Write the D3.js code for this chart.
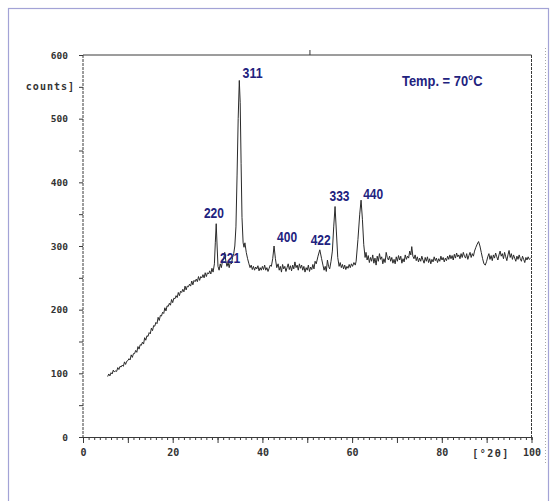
<!DOCTYPE html>
<html><head><meta charset="utf-8">
<script src="https://cdn.jsdelivr.net/npm/d3@7"></script>
<style>body{margin:0;background:#fff}svg{display:block}</style>
</head><body>
<script>
// [2θ, counts]
const risingScan = [[5.5,95],[5.75,99],[6,96],[6.25,101],[6.5,99],[6.75,105],[7,102],[7.25,104],[7.5,103],[7.75,109],[8,106],[8.25,111],[8.5,110],[8.75,113],[9,111],[9.25,118],[9.5,114],[9.75,119],[10,120],[10.25,123],[10.5,121],[10.75,129],[11,125],[11.25,131],[11.5,131],[11.75,136],[12,133],[12.25,142],[12.5,138],[12.75,145],[13,144],[13.25,149],[13.5,146],[13.75,156],[14,152],[14.25,159],[14.5,158],[14.75,164],[15,162],[15.25,171],[15.5,167],[15.75,175],[16,174],[16.25,180],[16.5,178],[16.75,188],[17,183],[17.25,191],[17.5,190],[17.75,196],[18,194],[18.25,203],[18.5,198],[18.75,206],[19,205],[19.25,210],[19.5,207],[19.75,216],[20,211],[20.25,218],[20.5,217],[20.75,222],[21,219],[21.25,227],[21.5,222],[21.75,229],[22,227],[22.25,232],[22.5,228],[22.75,237],[23,231],[23.25,237],[23.5,236],[23.75,240],[24,237],[24.25,245],[24.5,239],[24.75,246],[25,244],[25.25,248],[25.5,244],[25.75,252],[26,246],[26.25,252],[26.5,250],[26.75,255],[27,250],[27.25,258],[27.5,252],[27.75,258],[28,256],[28.25,261],[28.5,256],[28.75,265],[29,259]];
const peakRegionScan = [[29.3,272],[29.5,305],[29.7,335],[29.9,300],[30.1,268],[30.35,262],[30.6,272],[30.85,266],[31.1,276],[31.35,280],[31.6,290],[31.85,276],[32.1,268],[32.35,274],[32.6,266],[32.85,275],[33.1,272],[33.35,282],[33.6,288],[33.85,300],[34.1,330],[34.35,410],[34.6,500],[34.85,560],[35.05,525],[35.25,430],[35.45,345],[35.7,305],[35.9,298],[36.1,305],[36.4,290],[36.7,280],[37,272],[37.25,266],[37.5,270],[37.75,263],[38,268],[38.25,262],[38.5,267],[38.75,264],[39,269],[39.25,261],[39.5,266],[39.75,262],[40,268],[40.25,263],[40.5,270],[40.75,262],[41,266],[41.25,260],[41.5,265],[41.75,270],[42,268],[42.3,280],[42.6,300],[42.9,280],[43.2,266],[43.5,272],[43.75,262],[44,268],[44.25,259],[44.5,271],[44.75,264],[45,268],[45.25,260],[45.5,266],[45.75,272],[46,263],[46.25,269],[46.5,261],[46.75,270],[47,264],[47.25,275],[47.5,266],[47.75,270],[48,262],[48.25,272],[48.5,265],[48.75,270],[49,262],[49.25,268],[49.5,259],[49.75,266],[50,262],[50.25,270],[50.5,260],[50.75,267],[51,263],[51.25,271],[51.5,264],[51.75,276],[52,272],[52.4,284],[52.8,294],[53.2,280],[53.5,270],[53.75,262],[54,268],[54.25,260],[54.5,278],[54.75,268],[55,264],[55.3,276],[55.6,292],[55.9,330],[56.2,362],[56.5,322],[56.8,282],[57.1,268],[57.35,274],[57.6,266],[57.85,271],[58.1,264],[58.35,270],[58.6,263],[58.85,268],[59.1,265],[59.35,271],[59.6,266],[59.85,272],[60.1,268],[60.4,274],[60.7,270],[60.9,276],[61.3,310],[61.7,350],[62.0,372],[62.3,342],[62.6,302],[62.9,282]];
const highAngleScan = [[63.1,290],[63.35,278],[63.6,285],[63.85,274],[64.1,282],[64.35,276],[64.6,286],[64.85,273],[65.1,281],[65.35,270],[65.6,284],[65.85,276],[66.1,288],[66.35,279],[66.6,283],[66.85,272],[67.1,280],[67.35,274],[67.6,290],[67.85,282],[68.1,278],[68.35,284],[68.6,276],[68.85,282],[69.1,273],[69.35,279],[69.6,272],[69.85,283],[70.1,276],[70.35,285],[70.6,278],[70.85,284],[71.1,273],[71.35,280],[71.6,275],[71.85,286],[72.1,279],[72.35,284],[72.6,281],[72.85,292],[73.1,286],[73.3,299],[73.55,284],[73.8,280],[74.05,286],[74.3,277],[74.55,283],[74.8,275],[75.05,281],[75.3,276],[75.55,284],[75.8,278],[76.05,273],[76.3,282],[76.55,276],[76.8,283],[77.05,274],[77.3,280],[77.55,272],[77.8,279],[78.05,275],[78.3,283],[78.55,277],[78.8,281],[79.05,274],[79.3,280],[79.55,276],[79.8,284],[80.05,278],[80.3,282],[80.55,275],[80.8,281],[81.05,277],[81.3,284],[81.55,279],[81.8,286],[82.05,280],[82.3,285],[82.55,278],[82.8,287],[83.05,281],[83.3,289],[83.55,283],[83.8,286],[84.05,280],[84.3,288],[84.55,282],[84.8,290],[85.05,284],[85.3,281],[85.55,288],[85.8,279],[86.05,285],[86.3,290],[86.55,282],[86.8,288],[87.05,284],[87.3,292],[87.6,298],[87.9,303],[88.2,307],[88.5,300],[88.8,290],[89.1,280],[89.4,272],[89.7,270],[90,276],[90.25,283],[90.5,288],[90.75,279],[91,285],[91.25,277],[91.5,286],[91.75,281],[92,289],[92.25,283],[92.5,278],[92.75,286],[93,292],[93.25,284],[93.5,288],[93.75,280],[94,290],[94.25,283],[94.5,277],[94.75,286],[95,293],[95.25,282],[95.5,288],[95.75,279],[96,286],[96.25,281],[96.5,276],[96.75,284],[97,279],[97.25,286],[97.5,280],[97.75,276],[98,284],[98.25,279],[98.5,274],[98.75,282],[99,278],[99.25,283],[99.5,279],[99.8,281]];
const yTickValues = [0,100,200,300,400,500,600];
const xTickValues = [0,20,40,60,80,100];
const peakLabels = ["220","221","311","400","422","333","440"];
const peakLabelPos = [[29.2,352],[32.8,281],[37.8,572],[45.5,314],[53.0,309],[57.2,378],[64.7,382]];
const tempLabel = "Temp. = 70°C";

const W = 552, H = 501;
const svg = d3.select("body").append("svg").attr("width", W).attr("height", H);

svg.append("rect").attr("x", 8.5).attr("y", 8.5).attr("width", 540).attr("height", 510)
  .attr("fill", "none").attr("stroke", "#a3a3d6").attr("stroke-width", 1.2);
svg.append("line").attr("x1", 545.5).attr("x2", 545.5).attr("y1", 48).attr("y2", 465)
  .attr("stroke", "#aaa").attr("stroke-dasharray", "1,2");

const x = d3.scaleLinear().domain([0, 100]).range([83, 531.5]);
const y = d3.scaleLinear().domain([0, 600]).range([437, 55]);

const ink = "#3a3a3a";
const monoFont = "'DejaVu Sans Mono', 'Liberation Mono', monospace";

const g = svg.append("g");
g.append("line").attr("x1", x(0)).attr("x2", x(0)).attr("y1", y(600)).attr("y2", y(0))
  .attr("stroke", ink).attr("stroke-dasharray", "3,1");
g.append("line").attr("x1", x(100)).attr("x2", x(100)).attr("y1", y(600)).attr("y2", y(0))
  .attr("stroke", ink).attr("stroke-dasharray", "3,1");
g.append("line").attr("x1", x(0)).attr("x2", x(100)).attr("y1", y(600)).attr("y2", y(600))
  .attr("stroke", ink);
g.append("line").attr("x1", x(50.6)).attr("x2", x(50.6)).attr("y1", y(600)).attr("y2", y(600) - 5)
  .attr("stroke", ink);

g.append("g").attr("transform", `translate(0,${y(0)})`)
  .call(d3.axisBottom(x).tickValues(d3.range(0, 100.01, 1.25)).tickSize(3).tickFormat(""))
  .call(a => { a.select(".domain").attr("stroke", ink); a.selectAll("line").attr("stroke", ink); });
g.append("g").attr("transform", `translate(0,${y(0)})`)
  .call(d3.axisBottom(x).tickValues(d3.range(0, 100.01, 10)).tickSize(6).tickFormat(""))
  .call(a => { a.select(".domain").remove(); a.selectAll("line").attr("stroke", ink); });
g.append("g").attr("transform", `translate(0,${y(0)})`)
  .call(d3.axisBottom(x).tickValues(xTickValues).tickSize(0).tickPadding(12).tickFormat(d3.format("d")))
  .call(a => {
    a.select(".domain").remove();
    a.selectAll("text").attr("font-family", monoFont).attr("font-weight", "bold")
      .attr("font-size", 10).attr("fill", "#333");
  });
svg.append("text").attr("x", 491).attr("y", 457).attr("text-anchor", "middle")
  .attr("font-family", monoFont).attr("font-weight", "bold").attr("font-size", 10)
  .attr("letter-spacing", 1.5).attr("fill", "#333").text("[°2θ]");

g.append("g").attr("transform", `translate(${x(0)},0)`)
  .call(d3.axisLeft(y).tickValues(d3.range(0, 600.01, 50)).tickSize(4).tickFormat(""))
  .call(a => { a.select(".domain").remove(); a.selectAll("line").attr("stroke", ink); });
g.append("g").attr("transform", `translate(${x(0)},0)`)
  .call(d3.axisLeft(y).tickValues(yTickValues).tickSize(0).tickPadding(15).tickFormat(d3.format("d")))
  .call(a => {
    a.select(".domain").remove();
    a.selectAll("text").attr("font-family", monoFont).attr("font-weight", "bold")
      .attr("font-size", 9.5).attr("fill", "#333");
  });
svg.append("text").attr("x", 75).attr("y", y(550)).attr("dy", "0.35em").attr("text-anchor", "end")
  .attr("font-family", monoFont).attr("font-weight", "bold").attr("font-size", 10)
  .attr("letter-spacing", 1).attr("fill", "#333").text("counts]");

const data = risingScan.concat(peakRegionScan, highAngleScan);
svg.append("path").datum(data)
  .attr("d", d3.line().x(d => x(d[0])).y(d => y(d[1])))
  .attr("fill", "none").attr("stroke", "#2a2a2a").attr("stroke-width", 1);

const navy = "#22227e";
const labFont = "'Liberation Sans', Arial, sans-serif";
svg.selectAll(".pk").data(peakLabels).enter().append("text")
  .attr("x", (d, i) => x(peakLabelPos[i][0]) - 10).attr("y", (d, i) => y(peakLabelPos[i][1]))
  .attr("dy", "0.35em").attr("textLength", 20).attr("lengthAdjust", "spacingAndGlyphs")
  .attr("font-family", labFont).attr("font-weight", "bold").attr("font-size", 14.5)
  .attr("fill", navy).text(d => d);

// temperature note, horizontally condensed like the original lettering
svg.append("text").attr("transform", "translate(402,86) scale(0.89,1)")
  .attr("font-family", labFont).attr("font-weight", "bold").attr("font-size", 14.5)
  .attr("fill", navy).text(tempLabel);
</script>
</body></html>
